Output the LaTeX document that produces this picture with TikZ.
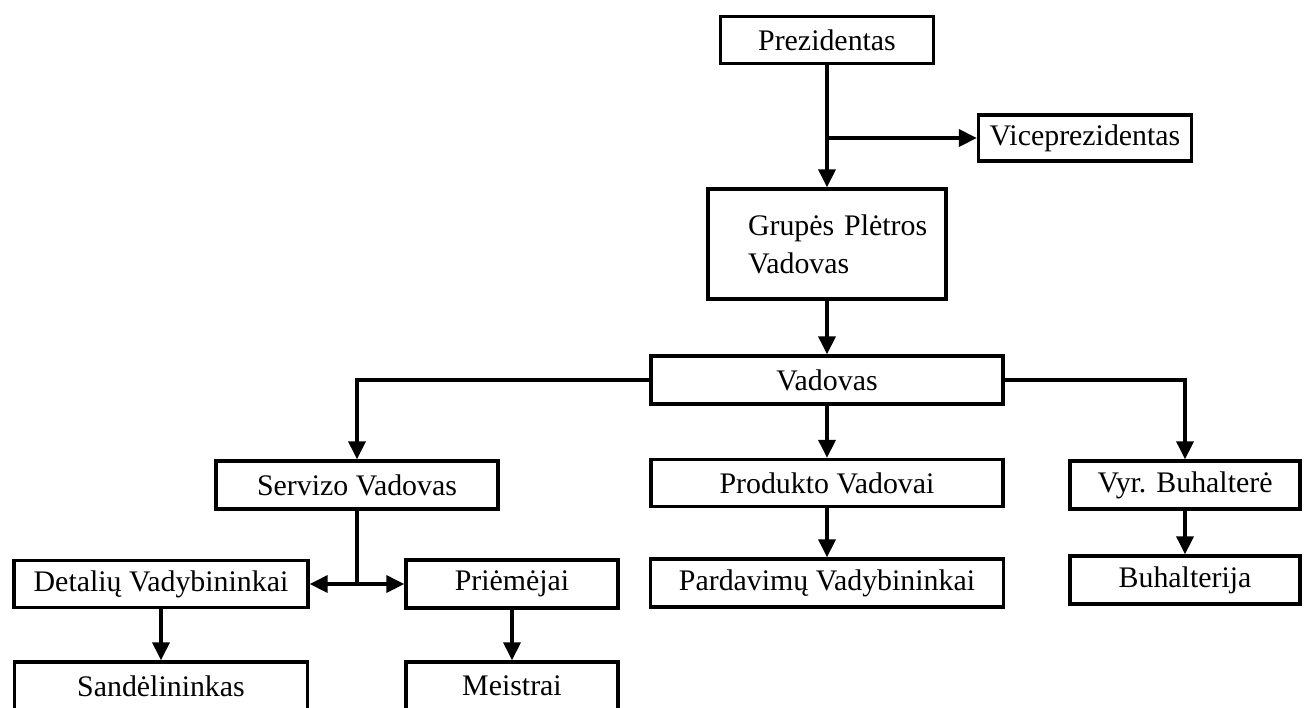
\documentclass[tikz,border=0pt]{standalone}
\usepackage{fontspec}
\setmainfont{Liberation Serif}
\usetikzlibrary{arrows.meta}

\begin{document}
\begin{tikzpicture}[x=0.02cm, y=-0.02cm, line width=1.9pt,
	box/.style={rectangle, draw, inner sep=2pt, minimum height=0.96cm,
	font=\fontsize{17}{21.6}\selectfont},
	>={Triangle[length=3.6mm, width=3.4mm]}]

\useasboundingbox (0,0) rectangle (1311,707);

\node[box, minimum width=4.26cm, minimum height=0.94cm] at (827,40) (pres) {Prezidentas};
\node[box, minimum width=4.26cm, minimum height=0.92cm] at (1085,138) (vice) {Viceprezidentas};
\node[box, minimum width=4.76cm, minimum height=2.2cm, text width=3.16cm, align=left] at (827,244) (grupe) {\mbox{Grupės Plėtros}\\Vadovas};
\node[box, minimum width=7.04cm] at (827,380) (vad) {Vadovas};

\node[box, minimum width=5.64cm] at (357,485) (serv) {Servizo Vadovas};
\node[box, minimum width=7.04cm, minimum height=0.94cm] at (827,483) (prod) {Produkto Vadovai};
\node[box, minimum width=4.6cm] at (1185,485) (vyr) {Vyr. Buhalterė};

\node[box, minimum width=5.88cm, minimum height=0.94cm] at (161,584) (detal) {Detalių Vadybininkai};
\node[box, minimum width=4.24cm] at (512,584) (priem) {Priėmėjai};
\node[box, minimum width=7.06cm] at (827,583) (pard) {Pardavimų Vadybininkai};
\node[box, minimum width=4.6cm] at (1185,580) (buh) {Buhalterija};

\node[box, minimum width=5.86cm] at (161,686) (sand) {Sandėlininkas};
\node[box, minimum width=4.24cm] at (512,686) (meist) {Meistrai};

\draw[->] (pres) -- (grupe);
\draw[->] (pres.south |- vice.west) -- (vice);
\draw[->] (grupe) -- (vad);
\draw[->] (vad.west) -| (serv.north);
\draw[->] (vad) -- (prod);
\draw[->] (vad.east) -| (vyr.north);
\draw[->] (serv.south) |- (detal.east);
\draw[->] (serv.south |- priem.west) -- (priem);
\draw[->] (prod) -- (pard);
\draw[->] (vyr) -- (buh);
\draw[->] (detal) -- (sand);
\draw[->] (priem) -- (meist);
\end{tikzpicture}
\end{document}
